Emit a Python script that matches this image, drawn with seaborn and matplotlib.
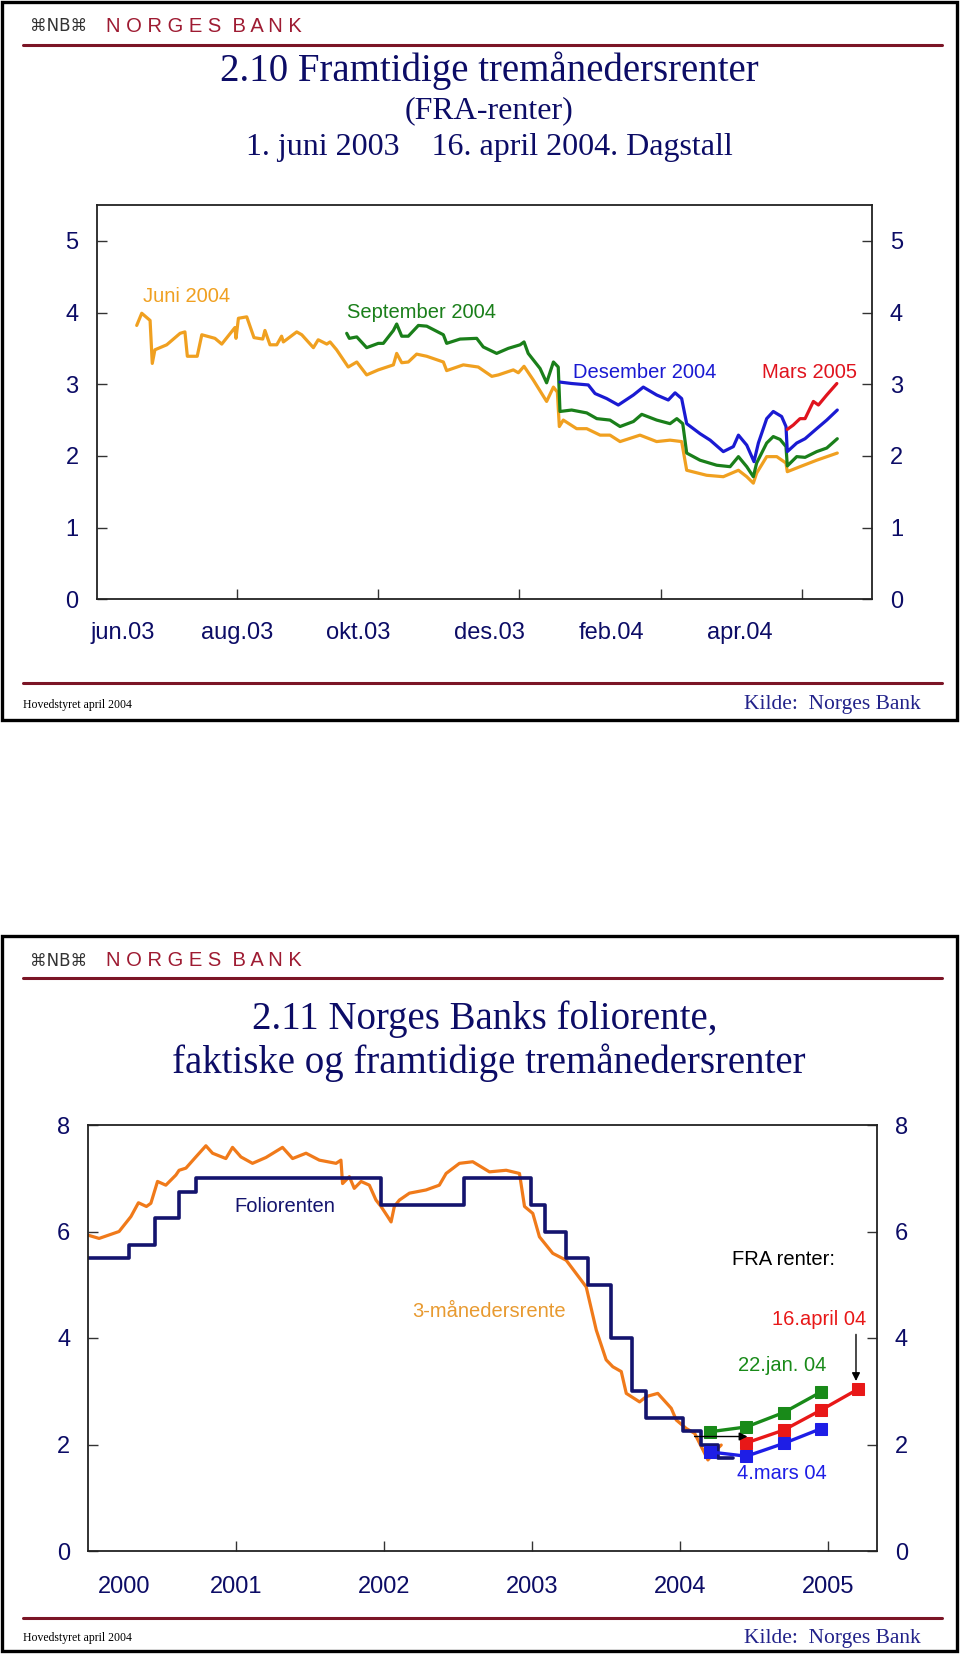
import numpy as np
import pandas as pd
import matplotlib
matplotlib.use("Agg")
import matplotlib.pyplot as plt
import seaborn as sns
from matplotlib.patches import Rectangle
from matplotlib.lines import Line2D

# ---- chart 2.10: FRA rates, x = days since 1 June 2003 ----
jun_days = [0, 2.3, 6.1, 7.1, 8.3, 13.7, 19.8, 22.0, 23.1, 27.6, 29.7, 35.7, 38.8, 44.8, 45.3, 46.4,
            50.2, 53.5, 57.5, 58.5, 60.8, 63.9, 66.1, 66.9, 73.0, 75.3, 80.6, 82.8, 86.7, 88.2, 91.2,
            96.5, 100.4, 104.9, 110.2, 117.1, 118.6, 120.9, 123.9, 127.7, 132.3, 139.9, 141.4, 149.0,
            155.8, 162.0, 165.0, 171.8, 174.1, 176.7, 180.9, 187.0, 190.1, 191.9, 192.8, 194.6, 200.7,
            205.3, 211.4, 215.9, 220.5, 229.6, 237.2, 243.3, 248.6, 250.9, 260.0, 267.6, 274.5, 278.3,
            281.3, 282.8, 287.4, 292.0, 296.2, 296.8, 302.6, 310.2, 319.6]
jun_vals = [3.82, 3.99, 3.89, 3.29, 3.48, 3.55, 3.71, 3.73, 3.39, 3.39, 3.69, 3.64, 3.56, 3.79, 3.64, 3.92,
            3.94, 3.65, 3.63, 3.75, 3.55, 3.55, 3.67, 3.59, 3.73, 3.69, 3.51, 3.62, 3.56, 3.59, 3.48,
            3.24, 3.31, 3.13, 3.20, 3.27, 3.43, 3.30, 3.31, 3.42, 3.39, 3.31, 3.19, 3.27,
            3.24, 3.11, 3.13, 3.20, 3.16, 3.25, 3.06, 2.76, 2.96, 2.89, 2.41, 2.50, 2.38,
            2.38, 2.29, 2.29, 2.20, 2.29, 2.20, 2.22, 2.20, 1.80, 1.73, 1.71, 1.80, 1.71,
            1.62, 1.76, 1.99, 1.99, 1.90, 1.78, 1.85, 1.94, 2.04]

sep_days = [95.8, 97.0, 100.4, 104.9, 110.2, 112.5, 117.1, 118.6, 120.9, 123.9, 128.5, 132.3, 139.9,
            141.4, 147.5, 155.1, 158.1, 164.2, 169.5, 174.9, 176.7, 178.6, 184.0, 187.0, 190.1, 192.3,
            193.1, 198.4, 205.3, 209.9, 215.9, 220.5, 226.6, 230.4, 237.2, 243.3, 246.4, 249.1, 250.9,
            257.0, 264.6, 270.7, 274.5, 278.3, 281.3, 282.8, 287.4, 290.4, 293.5, 296.2, 296.8, 301.1,
            304.9, 310.2, 314.8, 319.6]
sep_vals = [3.71, 3.64, 3.66, 3.51, 3.57, 3.57, 3.75, 3.84, 3.67, 3.67, 3.82, 3.81, 3.69,
            3.57, 3.63, 3.64, 3.52, 3.43, 3.50, 3.55, 3.59, 3.43, 3.22, 3.02, 3.31, 3.24,
            2.62, 2.64, 2.60, 2.52, 2.50, 2.41, 2.48, 2.58, 2.50, 2.45, 2.52, 2.45, 2.04,
            1.94, 1.87, 1.85, 1.99, 1.85, 1.71, 1.90, 2.18, 2.27, 2.23, 2.13, 1.86, 1.99,
            1.98, 2.06, 2.11, 2.24]

des_days = [193.1, 198.4, 206.0, 209.1, 214.4, 219.7, 226.6, 231.1, 237.2, 242.5, 245.6, 248.6, 250.9,
            257.0, 261.6, 267.6, 272.2, 274.5, 278.3, 281.6, 283.6, 287.4, 290.4, 294.2, 296.2, 296.8,
            301.1, 304.9, 310.2, 314.8, 319.6]
des_vals = [3.03, 3.01, 2.99, 2.87, 2.80, 2.71, 2.85, 2.96, 2.85, 2.78, 2.88, 2.80, 2.45,
            2.31, 2.22, 2.06, 2.13, 2.29, 2.15, 1.92, 2.18, 2.52, 2.62, 2.55, 2.41, 2.06,
            2.18, 2.24, 2.38, 2.50, 2.64]

mar_days = [296.8, 299.5, 302.6, 304.9, 308.7, 311.0, 314.8, 319.4]
mar_vals = [2.37, 2.43, 2.52, 2.52, 2.76, 2.71, 2.85, 3.01]

top_tick_days = [45.8, 110.1, 174.6, 239.0, 303.4]
top_label_days = [-6.3, 45.7, 101.0, 161.0, 216.6, 275.0]
top_labels = ["jun.03", "aug.03", "okt.03", "des.03", "feb.04", "apr.04"]

# ---- chart 2.11: policy rate, 3m rate and FRA, x = decimal year ----
folio_year = [2000.0, 2000.276, 2000.45, 2000.61, 2000.727, 2001.98, 2002.54, 2002.99, 2003.085,
              2003.23, 2003.38, 2003.535, 2003.675, 2003.77, 2004.02, 2004.14, 2004.26, 2004.36]
folio_rate = [5.5, 5.75, 6.25, 6.75, 7.0, 6.5, 7.0, 6.5, 6.0, 5.5, 5.0, 4.0, 3.0, 2.5, 2.25, 2.0, 1.75, 1.75]

nibor_year = [2000.0, 2000.073, 2000.208, 2000.288, 2000.339, 2000.393, 2000.423, 2000.468, 2000.524,
              2000.592, 2000.614, 2000.66, 2000.727, 2000.795, 2000.84, 2000.93, 2000.975, 2001.032,
              2001.11, 2001.201, 2001.313, 2001.381, 2001.472, 2001.562, 2001.675, 2001.708, 2001.719,
              2001.765, 2001.798, 2001.844, 2001.9, 2001.945, 2001.979, 2002.024, 2002.047, 2002.069,
              2002.103, 2002.171, 2002.283, 2002.373, 2002.419, 2002.509, 2002.599, 2002.712, 2002.825,
              2002.915, 2002.949, 2003.005, 2003.05, 2003.14, 2003.231, 2003.366, 2003.434, 2003.501,
              2003.546, 2003.603, 2003.637, 2003.727, 2003.772, 2003.85, 2003.941, 2003.975, 2004.043,
              2004.099, 2004.155, 2004.189, 2004.246, 2004.279]
nibor_rate = [5.93, 5.87, 6.00, 6.28, 6.54, 6.47, 6.53, 6.94, 6.87,
              7.06, 7.15, 7.19, 7.40, 7.61, 7.47, 7.37, 7.58, 7.40,
              7.28, 7.39, 7.58, 7.37, 7.47, 7.34, 7.28, 7.34, 6.90,
              7.03, 6.81, 6.94, 6.87, 6.59, 6.47, 6.28, 6.18, 6.47,
              6.59, 6.72, 6.78, 6.87, 7.09, 7.28, 7.31, 7.12, 7.15,
              7.09, 6.47, 6.34, 5.90, 5.59, 5.46, 4.96, 4.15, 3.59,
              3.46, 3.37, 2.96, 2.80, 2.90, 2.96, 2.68, 2.46, 2.30,
              2.21, 1.90, 1.71, 1.90, 1.99]

fra_year = [2004.205, 2004.449, 2004.701, 2004.956]
fra_jan = [2.24, 2.33, 2.60, 2.99]
fra_mar = [1.86, 1.78, 2.02, 2.30]
fra_apr_year = [2004.449, 2004.701, 2004.956, 2005.204]
fra_apr = [2.03, 2.27, 2.65, 3.04]

year_ticks = [2001, 2002, 2003, 2004, 2005]
year_labels = ["2001", "2002", "2003", "2004", "2005"]
first_year_pos = [2000.245]
first_year_label = ["2000"]

sns.set_theme(style="white")
plt.rcParams['font.family'] = ['Liberation Sans', 'DejaVu Sans']

W, H = 960, 1654
fig = plt.figure(figsize=(W / 100, H / 100), dpi=100)

def fx(x):
    return x / W

def fy(y):
    return 1 - y / H

navy = "#0c0c66"
serif = ['Liberation Serif', 'DejaVu Serif']
tick_fs = 17

def frame(top, bottom, logo_y, line_y, foot_line, foot_y):
    fig.patches.append(Rectangle((fx(2), fy(bottom)), fx(955), (bottom - top) / H, transform=fig.transFigure,
                                 fill=False, lw=2.4, ec="black"))
    fig.lines.append(Line2D([fx(23), fx(942)], [fy(line_y)] * 2, transform=fig.transFigure, color="#7b1526", lw=2.2))
    fig.lines.append(Line2D([fx(23), fx(942)], [fy(foot_line)] * 2, transform=fig.transFigure, color="#7b1526", lw=2.2))
    fig.text(fx(30), fy(logo_y), "\u2318NB\u2318", fontsize=12, color="#333333", va="center",
             family=['DejaVu Sans'])
    fig.text(fx(106), fy(logo_y), "N O R G E S  B A N K", fontsize=14.5, color="#9e1b32", va="center")
    fig.text(fx(23), fy(foot_y), "Hovedstyret april 2004", fontsize=8.5, color="black", va="center",
             family=serif)
    fig.text(fx(921), fy(foot_y), "Kilde:  Norges Bank", fontsize=15.5, color="#22228a", va="center",
             ha="right", family=serif)

def style_axes(ax, ymax, step, lab_pad, major_labels):
    ax.set_ylim(0, ymax)
    ax.set_yticks(np.arange(0, ymax + 0.01, step))
    ax.tick_params(axis="y", which="major", direction="in", length=7, width=1, left=True, right=True,
                   labelleft=True, labelright=True, labelsize=tick_fs, labelcolor=navy, pad=13, color="#333333")
    ax.tick_params(axis="x", which="major", direction="in", length=7, width=1, bottom=True,
                   labelbottom=major_labels, labelsize=tick_fs, labelcolor=navy, pad=lab_pad, color="#333333")
    ax.tick_params(axis="x", which="minor", length=0, labelsize=tick_fs, labelcolor=navy, pad=lab_pad)
    for s in ax.spines.values():
        s.set_color("#222222")
        s.set_linewidth(1.3)
    ax.grid(False)

# ---------------- top panel ----------------
frame(2, 720, 26, 45, 683, 705)
fig.text(fx(489), fy(71), "2.10 Framtidige tremånedersrenter", fontsize=28, color=navy, ha="center",
         va="center", family=serif)
fig.text(fx(489), fy(111), "(FRA-renter)", fontsize=23, color=navy, ha="center", va="center", family=serif)
fig.text(fx(489), fy(148), "1. juni 2003    16. april 2004. Dagstall", fontsize=23, color=navy, ha="center",
         va="center", family=serif)

ax1 = fig.add_axes([fx(96.7), fy(599.3), (871.7 - 96.7) / W, (599.3 - 205) / H])
sns.lineplot(x=jun_days, y=jun_vals, ax=ax1, color="#f0a020", lw=2.3, estimator=None, sort=False)
sns.lineplot(x=sep_days, y=sep_vals, ax=ax1, color="#1a7f1a", lw=2.3, estimator=None, sort=False)
sns.lineplot(x=des_days, y=des_vals, ax=ax1, color="#1a1ad2", lw=2.3, estimator=None, sort=False)
sns.lineplot(x=mar_days, y=mar_vals, ax=ax1, color="#e0141e", lw=2.3, estimator=None, sort=False)
ax1.set_xlim(-18.25, 335.3)
style_axes(ax1, 5.5, 1, 16, False)
ax1.set_yticks(range(0, 6))
ax1.set_xticks(top_tick_days)
ax1.set_xticks(top_label_days, minor=True)
ax1.set_xticklabels(top_labels, minor=True)
ax1.set_xlabel("")
ax1.set_ylabel("")
ax1.text(2.9, 4.22, "Juni 2004", color="#f0a020", fontsize=14.5, va="center")
ax1.text(95.8, 4.0, "September 2004", color="#1a7f1a", fontsize=14.5, va="center")
ax1.text(199, 3.16, "Desember 2004", color="#1a1ad2", fontsize=14.5, va="center")
ax1.text(285.1, 3.16, "Mars 2005", color="#e0141e", fontsize=14.5, va="center")

# ---------------- bottom panel ----------------
frame(936, 1651, 961, 978, 1618, 1638)
fig.text(fx(485), fy(1019), "2.11 Norges Banks foliorente,", fontsize=28, color=navy, ha="center",
         va="center", family=serif)
fig.text(fx(489), fy(1063), "faktiske og framtidige tremånedersrenter", fontsize=28, color=navy, ha="center",
         va="center", family=serif)

ax2 = fig.add_axes([fx(88.3), fy(1551), (876.7 - 88.3) / W, (1551 - 1125) / H])
sns.lineplot(x=nibor_year, y=nibor_rate, ax=ax2, color="#f07a1a", lw=2.3, estimator=None, sort=False)
sns.lineplot(x=folio_year, y=folio_rate, ax=ax2, color="#14146e", lw=2.6, estimator=None, sort=False,
             drawstyle="steps-post")
sns.lineplot(x=fra_year, y=fra_jan, ax=ax2, color="#198a19", lw=2.4, marker="s", markersize=9,
             markeredgecolor="#198a19", estimator=None, sort=False)
sns.lineplot(x=fra_apr_year, y=fra_apr, ax=ax2, color="#e81818", lw=2.4, marker="s", markersize=9,
             markeredgecolor="#e81818", estimator=None, sort=False)
sns.lineplot(x=fra_year, y=fra_mar, ax=ax2, color="#1e1ee6", lw=2.4, marker="s", markersize=9,
             markeredgecolor="#1e1ee6", estimator=None, sort=False)
ax2.set_xlim(2000.0, 2005.33)
style_axes(ax2, 8, 2, 18, True)
ax2.set_xticks(year_ticks)
ax2.set_xticklabels(year_labels)
ax2.set_xticks(first_year_pos, minor=True)
ax2.set_xticklabels(first_year_label, minor=True)
ax2.set_xlabel("")
ax2.set_ylabel("")
ax2.text(2001.33, 6.47, "Foliorenten", color="#14146e", fontsize=14.5, ha="center", va="center")
ax2.text(2002.19, 4.49, "3-månedersrente", color="#e89a30", fontsize=14.5, va="center")
ax2.text(2004.35, 5.48, "FRA renter:", color="black", fontsize=14.5, va="center")
ax2.text(2004.62, 4.34, "16.april 04", color="#e81818", fontsize=14.5, va="center")
ax2.text(2004.39, 3.49, "22.jan. 04", color="#198a19", fontsize=14.5, va="center")
ax2.text(2004.385, 1.46, "4.mars 04", color="#1e1ee6", fontsize=14.5, va="center")
ax2.annotate("", xy=(2004.475, 2.15), xytext=(2004.08, 2.15),
             arrowprops=dict(arrowstyle="-|>", color="black", lw=1, mutation_scale=12))
ax2.annotate("", xy=(2005.19, 3.14), xytext=(2005.19, 4.12),
             arrowprops=dict(arrowstyle="-|>", color="black", lw=1, mutation_scale=12))

fig.savefig("out.png", dpi=100)
